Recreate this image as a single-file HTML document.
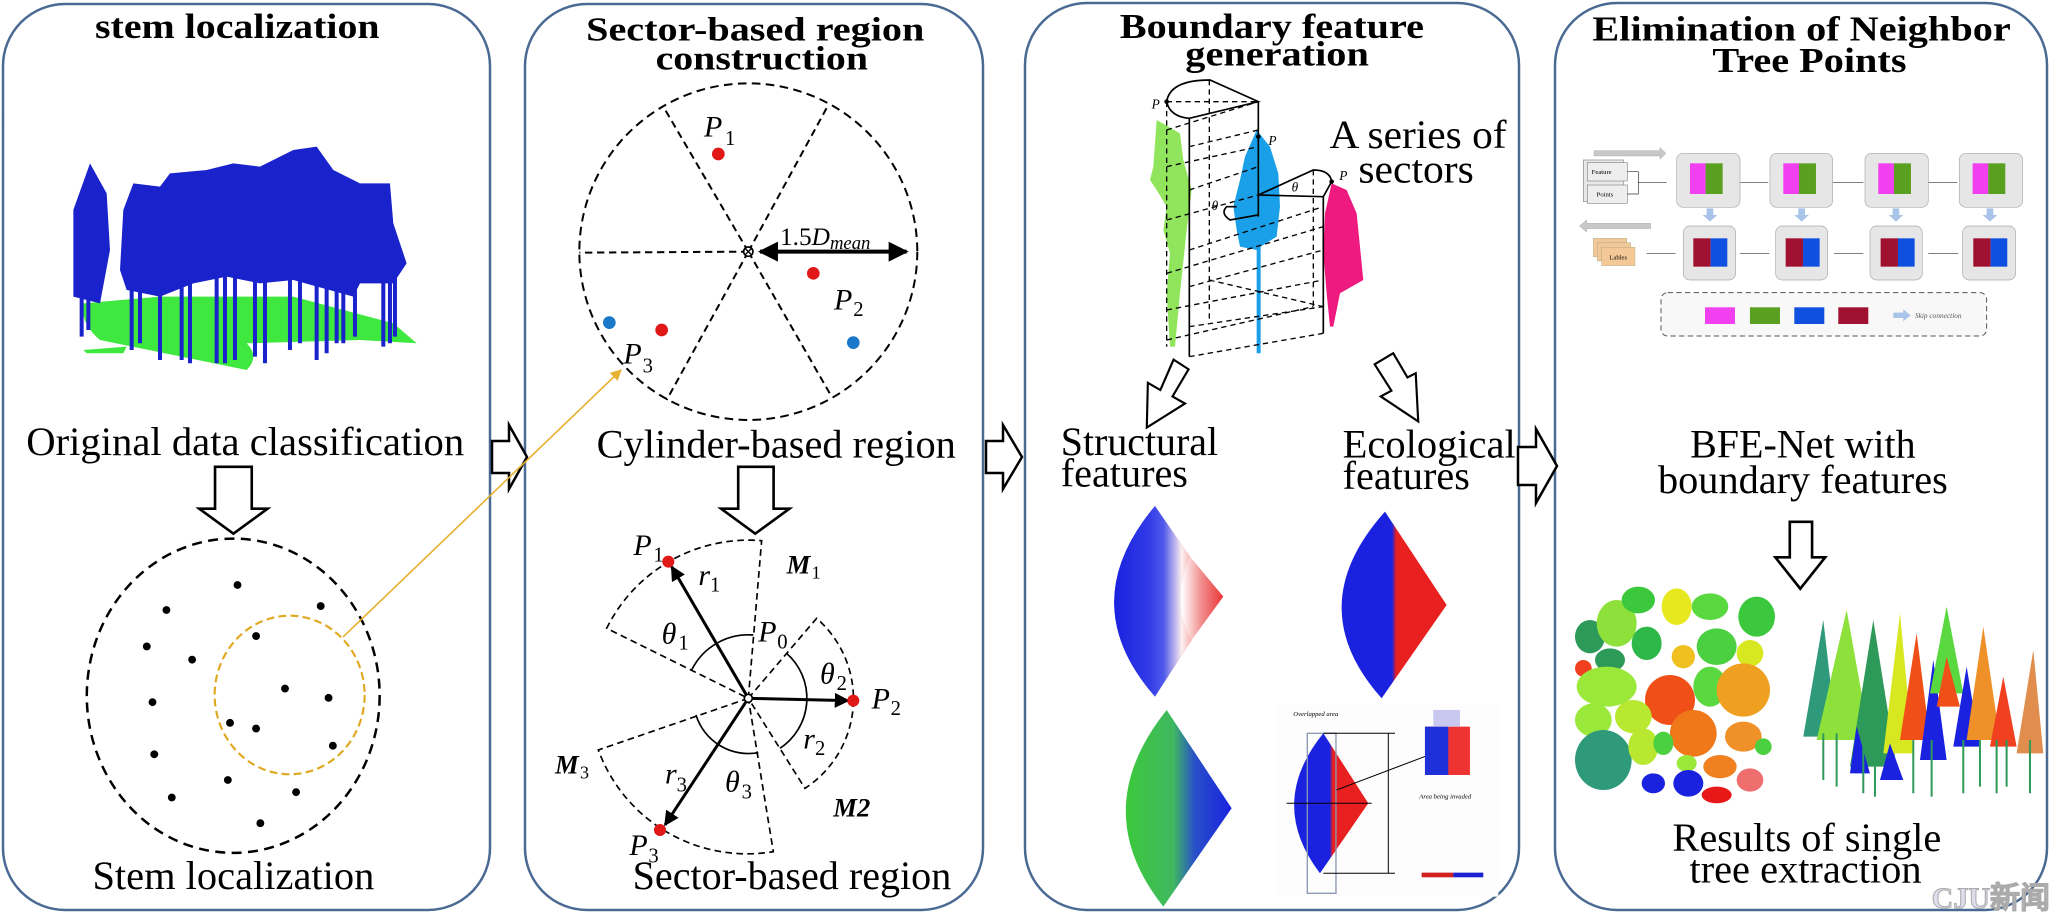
<!DOCTYPE html>
<html><head><meta charset="utf-8"><style>
html,body{margin:0;padding:0;background:#fff;}
svg{display:block;}
text{font-family:"Liberation Serif",serif;}
</style></head><body>
<svg width="2056" height="914" viewBox="0 0 2056 914" xmlns="http://www.w3.org/2000/svg">
<defs>
<linearGradient id="gBR" x1="0" x2="1" y1="0" y2="0">
<stop offset="0" stop-color="#1a22e0"/><stop offset="0.45" stop-color="#3a44e8"/><stop offset="0.62" stop-color="#ffffff"/><stop offset="0.8" stop-color="#f08080"/><stop offset="1" stop-color="#e82020"/></linearGradient>
<linearGradient id="gBR2" x1="0" x2="1"><stop offset="0" stop-color="#1a22e0"/><stop offset="0.48" stop-color="#1a22e0"/><stop offset="0.52" stop-color="#e82020"/><stop offset="1" stop-color="#e82020"/></linearGradient>
<linearGradient id="gGB" x1="0" x2="1"><stop offset="0" stop-color="#3cc83c"/><stop offset="0.45" stop-color="#40b860"/><stop offset="0.65" stop-color="#2850c8"/><stop offset="1" stop-color="#1a22e0"/></linearGradient>
<marker id="ah" viewBox="0 0 10 10" refX="9" refY="5" markerWidth="5" markerHeight="5" orient="auto"><path d="M0 0L10 5L0 10z" fill="#000"/></marker>
<marker id="ahs" viewBox="0 0 10 10" refX="1" refY="5" markerWidth="5" markerHeight="5" orient="auto"><path d="M10 0L0 5L10 10z" fill="#000"/></marker>
<marker id="aho" viewBox="0 0 10 10" refX="9" refY="5" markerWidth="7" markerHeight="7" orient="auto"><path d="M0 0L10 5L0 10z" fill="#e8b030"/></marker>
</defs>
<rect width="2056" height="914" fill="#fff"/>
<!-- panels -->
<g fill="none" stroke="#4a6a94" stroke-width="2.5">
<rect x="3" y="4" width="487" height="906" rx="62"/>
<rect x="525" y="4" width="458" height="906" rx="62"/>
<rect x="1025" y="3" width="494" height="907" rx="62"/>
<rect x="1555" y="3" width="492" height="907" rx="62"/>
</g>
<!-- right hollow arrows -->
<g fill="#fff" stroke="#000" stroke-width="2.5">
<path d="M492 441 H509 V425 L527 457 L509 489 V473 H492 Z"/>
<path d="M986 441 H1003 V425 L1022 457 L1003 489 V473 H986 Z"/>
<path d="M1518 447 H1536 V429 L1557 466 L1536 503 V485 H1518 Z"/>
</g>

<!-- ===== Panel 1 ===== -->
<g transform="scale(1.3112)">
<text x="181" y="29" font-size="27" font-weight="bold" text-anchor="middle" textLength="217" lengthAdjust="spacingAndGlyphs">stem localization</text>
<text x="187" y="347" font-size="31" text-anchor="middle" textLength="334" lengthAdjust="spacingAndGlyphs">Original data classification</text>
<text x="178" y="678" font-size="31" text-anchor="middle" textLength="215" lengthAdjust="spacingAndGlyphs">Stem localization</text>
<path d="M164 356 H192 V388 H204 L178 407 L152 388 H164 Z" fill="#fff" stroke="#000" stroke-width="2"/>
</g>
<!-- tree point cloud -->
<g transform="translate(60,110) scale(0.3333)">
<path d="M70 580 Q60 640 120 690 L560 780 Q600 740 560 700 L900 690 L1070 700 L1000 640 L700 560 L300 560 Z" fill="#3ee83e"/>
<path d="M70 720 L200 710 L190 730 L80 730 Z" fill="#3ee83e"/>
<path d="M40 560 L40 300 L90 160 L140 250 L150 420 L120 580 Z" fill="#1a22cc"/>
<path d="M180 480 L190 300 L220 220 L300 230 L330 190 L440 180 L520 160 L600 170 L700 120 L770 110 L820 180 L900 220 L990 220 L1000 340 L1040 460 L1000 520 L900 520 L880 560 L700 510 L600 520 L500 500 L400 520 L300 560 L200 540 Z" fill="#1a22cc"/>
<g stroke="#1a22cc" stroke-width="12">
<path d="M65 400V680M85 420V660M215 450V720M240 480V700M300 480V750M365 480V750M390 470V760M470 480V760M495 480V760M525 480V750M585 480V740M615 480V760M690 480V720M720 480V700M770 480V750M800 480V730M830 480V700M850 480V700M885 480V680M970 480V710M990 480V700M1005 480V680"/>
</g>
</g>
<!-- stem circle -->
<g transform="translate(60,520) scale(0.35714)">
<ellipse cx="485" cy="492" rx="410" ry="440" fill="none" stroke="#000" stroke-width="7" stroke-dasharray="28 18"/>
<ellipse cx="643" cy="490" rx="210" ry="222" fill="none" stroke="#e0a820" stroke-width="6" stroke-dasharray="22 12"/>
<g fill="#000">
<circle cx="497" cy="182" r="11"/><circle cx="298" cy="252" r="11"/><circle cx="730" cy="241" r="11"/><circle cx="243" cy="354" r="11"/><circle cx="549" cy="325" r="11"/><circle cx="370" cy="391" r="11"/><circle cx="630" cy="472" r="11"/><circle cx="752" cy="498" r="11"/><circle cx="259" cy="510" r="11"/><circle cx="476" cy="568" r="11"/><circle cx="549" cy="584" r="11"/><circle cx="764" cy="632" r="11"/><circle cx="264" cy="656" r="11"/><circle cx="470" cy="728" r="11"/><circle cx="661" cy="762" r="11"/><circle cx="313" cy="777" r="11"/><circle cx="561" cy="849" r="11"/>
</g>
</g>
<line x1="343" y1="637" x2="621" y2="370" stroke="#e8b030" stroke-width="1.6" marker-end="url(#aho)"/>

<!-- ===== Panel 2 ===== -->
<g transform="scale(1.3112)">
<text x="576" y="31" font-size="26" font-weight="bold" text-anchor="middle" textLength="258" lengthAdjust="spacingAndGlyphs">Sector-based region</text>
<text x="581" y="53" font-size="26" font-weight="bold" text-anchor="middle" textLength="162" lengthAdjust="spacingAndGlyphs">construction</text>
<text x="592" y="349" font-size="31" text-anchor="middle" textLength="274" lengthAdjust="spacingAndGlyphs">Cylinder-based region</text>
<text x="604" y="678" font-size="31" text-anchor="middle" textLength="243" lengthAdjust="spacingAndGlyphs">Sector-based region</text>
<path d="M563 356 H590 V388 H602 L576 407 L550 388 H563 Z" fill="#fff" stroke="#000" stroke-width="2"/>
</g>
<g transform="translate(560,80) scale(0.3333)">
<ellipse cx="565" cy="515" rx="507" ry="505" fill="none" stroke="#000" stroke-width="6" stroke-dasharray="26 16"/>
<g stroke="#000" stroke-width="6" stroke-dasharray="22 14">
<line x1="565" y1="515" x2="310" y2="80"/><line x1="565" y1="515" x2="805" y2="75"/><line x1="565" y1="515" x2="320" y2="960"/><line x1="565" y1="515" x2="815" y2="950"/><line x1="565" y1="515" x2="58" y2="518"/>
</g>
<line x1="600" y1="515" x2="1040" y2="515" stroke="#000" stroke-width="12" marker-end="url(#ah)" marker-start="url(#ahs)"/>
<circle cx="565" cy="515" r="14" fill="#fff" stroke="#000" stroke-width="5"/>
<path d="M556 506L574 524M574 506L556 524" stroke="#000" stroke-width="4"/>
<g fill="#e01818"><circle cx="475" cy="222" r="19"/><circle cx="760" cy="580" r="19"/><circle cx="305" cy="750" r="19"/></g>
<g fill="#1a78c8"><circle cx="148" cy="728" r="19"/><circle cx="880" cy="788" r="19"/></g>
<g font-size="90" font-style="italic" font-family="Liberation Serif,serif">
<text x="432" y="170">P</text><text x="495" y="195" font-style="normal" font-size="62">1</text>
<text x="822" y="688">P</text><text x="880" y="708" font-style="normal" font-size="62">2</text>
<text x="190" y="850">P</text><text x="248" y="878" font-style="normal" font-size="62">3</text>
<text x="660" y="495" font-style="normal" font-size="76">1.5<tspan font-style="italic">D</tspan><tspan font-size="56" font-style="italic" dy="12">mean</tspan></text>
</g>
</g>
<g transform="translate(540,510) scale(0.3333)">
<g fill="none" stroke="#000" stroke-width="5" stroke-dasharray="20 13">
<path d="M625 565 L665 92 A475 475 0 0 0 200 355 Z"/>
<path d="M625 565 L830 325 A320 320 0 0 1 795 835 Z"/>
<path d="M625 565 L175 720 A475 475 0 0 0 700 1025 Z"/>
</g>
<g fill="none" stroke="#000" stroke-width="5">
<path d="M455 480 A190 190 0 0 1 640 375"/>
<path d="M740 430 A180 180 0 0 1 720 715"/>
<path d="M468 615 A165 165 0 0 0 655 728"/>
</g>
<g stroke="#000" stroke-width="9">
<line x1="625" y1="565" x2="395" y2="170" marker-end="url(#ah)"/>
<line x1="625" y1="565" x2="925" y2="572" marker-end="url(#ah)"/>
<line x1="625" y1="565" x2="375" y2="945" marker-end="url(#ah)"/>
</g>
<circle cx="625" cy="565" r="12" fill="#fff" stroke="#000" stroke-width="5"/>
<g fill="#e01818"><circle cx="385" cy="155" r="18"/><circle cx="940" cy="572" r="18"/><circle cx="360" cy="960" r="18"/></g>
<g font-size="90" font-style="italic">
<text x="280" y="135">P</text><text x="340" y="155" font-size="62" font-style="normal">1</text>
<text x="475" y="225">r</text><text x="510" y="245" font-size="62" font-style="normal">1</text>
<text x="365" y="400">θ</text><text x="415" y="418" font-size="62" font-style="normal">1</text>
<text x="655" y="395">P</text><text x="712" y="415" font-size="62" font-style="normal">0</text>
<text x="840" y="520">θ</text><text x="890" y="540" font-size="62" font-style="normal">2</text>
<text x="995" y="595">P</text><text x="1052" y="615" font-size="62" font-style="normal">2</text>
<text x="790" y="715">r</text><text x="825" y="735" font-size="62" font-style="normal">2</text>
<text x="375" y="820">r</text><text x="410" y="845" font-size="62" font-style="normal">3</text>
<text x="555" y="845">θ</text><text x="605" y="865" font-size="62" font-style="normal">3</text>
<text x="268" y="1035">P</text><text x="325" y="1058" font-size="62" font-style="normal">3</text>
</g>
<g font-size="80" font-weight="bold" font-style="italic">
<text x="740" y="190">M</text><text x="815" y="205" font-size="54" font-weight="normal" font-style="normal">1</text>
<text x="45" y="790">M</text><text x="120" y="805" font-size="54" font-weight="normal" font-style="normal">3</text>
<text x="880" y="920">M2</text>
</g>
</g>

<!-- ===== Panel 3 ===== -->
<g transform="scale(1.3112)">
<text x="970" y="29" font-size="27" font-weight="bold" text-anchor="middle" textLength="232" lengthAdjust="spacingAndGlyphs">Boundary feature</text>
<text x="974" y="50" font-size="27" font-weight="bold" text-anchor="middle" textLength="140" lengthAdjust="spacingAndGlyphs">generation</text>
<text x="1014" y="113" font-size="31" textLength="135" lengthAdjust="spacingAndGlyphs">A series of</text>
<text x="1036" y="139" font-size="31" textLength="88" lengthAdjust="spacingAndGlyphs">sectors</text>
<text x="809" y="347" font-size="31" textLength="120" lengthAdjust="spacingAndGlyphs">Structural</text>
<text x="809" y="371" font-size="31" textLength="97" lengthAdjust="spacingAndGlyphs">features</text>
<text x="1024" y="349" font-size="31" textLength="132" lengthAdjust="spacingAndGlyphs">Ecological</text>
<text x="1024" y="373" font-size="31" textLength="97" lengthAdjust="spacingAndGlyphs">features</text>
</g>
<g transform="translate(1130,80) scale(0.3333)">
<path d="M80 120 L70 260 L60 300 L80 330 L110 380 L100 450 L120 520 L110 640 L120 800 L135 800 L150 640 L170 450 L185 330 L160 240 L150 160 Z" fill="#7ee040" opacity="0.85"/>
<path d="M380 150 L345 230 L330 300 L310 380 L320 450 L330 500 L380 510 L380 820 L392 820 L392 500 L440 470 L450 380 L445 280 L420 200 Z" fill="#1aa0e8"/>
<path d="M605 310 L585 400 L580 520 L590 640 L600 740 L610 740 L630 640 L700 600 L690 500 L680 400 L650 330 Z" fill="#ee1a80"/>
<g fill="none" stroke="#000" stroke-width="5">
<path d="M110 65 Q120 0 240 0 L385 65 L178 115 Q120 110 110 65"/>
<line x1="178" y1="115" x2="178" y2="830"/>
<line x1="385" y1="65" x2="385" y2="410"/>
<path d="M385 345 L550 270 Q600 270 605 305 L580 350 L385 345 M580 350 L580 760"/>
<path d="M385 405 L300 420 Q270 400 290 380 L320 380"/>
</g>
<g fill="none" stroke="#000" stroke-width="4" stroke-dasharray="16 12">
<line x1="238" y1="0" x2="238" y2="720"/><line x1="550" y1="270" x2="550" y2="680"/><line x1="110" y1="65" x2="110" y2="800"/>
<path d="M110 65 L385 65 M110 150 L385 65 M178 200 L385 150 M110 260 L385 200 M178 330 L385 260 M110 420 L385 345 M178 510 L580 380 M110 580 L580 440 M178 620 L580 510 M110 690 L580 600 M178 740 L580 680 M110 780 L550 680 M178 830 L580 760 M238 600 L580 680"/>
</g>
<circle cx="110" cy="65" r="7" fill="#000"/><circle cx="385" cy="170" r="7" fill="#000"/><circle cx="605" cy="305" r="7" fill="#000"/>
<g font-style="italic" font-size="40"><text x="65" y="85">P</text><text x="415" y="195">P</text><text x="628" y="300">P</text><text x="485" y="335">θ</text><text x="245" y="390">θ</text></g>
</g>
<g transform="translate(1020,340) scale(0.35714)" fill="#fff" stroke="#000" stroke-width="6">
<path d="M430 55 L472 82 L427 158 L462 178 L355 245 L358 120 L393 140 Z"/>
<path d="M993 68 L1045 37 L1085 105 L1108 93 L1115 228 L1010 158 L1040 142 Z"/>
</g>
<g transform="translate(1060,480) scale(0.3333)">
<path d="M285 78 Q40 370 285 650 L395 480 Q330 370 390 230 Z" fill="url(#gBR)"/>
<path d="M285 78 L390 230 L490 350 L395 480 L285 650 Q40 370 285 78 Z" fill="url(#gBR)" opacity="0.9"/>
<path d="M975 95 Q720 380 965 655 L1160 375 Z" fill="url(#gBR2)"/>
<path d="M320 690 Q80 990 310 1280 L515 985 Z" fill="url(#gGB)"/>
<rect x="650" y="670" width="665" height="580" fill="#fdfdfd"/>
<path d="M790 760 Q620 970 780 1180 L925 970 Z" fill="url(#gBR2)"/>
<rect x="742" y="760" width="86" height="480" fill="none" stroke="#8898b0" stroke-width="4"/>
<path d="M790 760 H1005 M790 1180 H1005 M985 760 V1180 M680 970 H935 M830 930 L1120 820" stroke="#000" stroke-width="3" fill="none"/>
<rect x="1095" y="740" width="135" height="145" fill="#e33"/><rect x="1095" y="740" width="70" height="145" fill="#2030d8"/>
<rect x="1120" y="690" width="80" height="50" fill="#c8c8f0"/>
<rect x="1085" y="1178" width="95" height="14" fill="#d02020"/><rect x="1180" y="1178" width="90" height="14" fill="#1a22d0"/>
<text x="700" y="708" font-size="20" font-style="italic">Overlapped area</text>
<text x="1078" y="955" font-size="20" font-style="italic">Area being invaded</text>
</g>

<!-- ===== Panel 4 ===== -->
<g transform="scale(1.3112)">
<text x="1374" y="31" font-size="27" font-weight="bold" text-anchor="middle" textLength="319" lengthAdjust="spacingAndGlyphs">Elimination of Neighbor</text>
<text x="1380" y="55" font-size="27" font-weight="bold" text-anchor="middle" textLength="148" lengthAdjust="spacingAndGlyphs">Tree Points</text>
<text x="1375" y="349" font-size="31" text-anchor="middle" textLength="172" lengthAdjust="spacingAndGlyphs">BFE-Net with</text>
<text x="1375" y="376" font-size="31" text-anchor="middle" textLength="221" lengthAdjust="spacingAndGlyphs">boundary features</text>
<text x="1378" y="649" font-size="31" text-anchor="middle" textLength="205" lengthAdjust="spacingAndGlyphs">Results of single</text>
<text x="1377" y="673" font-size="31" text-anchor="middle" textLength="177" lengthAdjust="spacingAndGlyphs">tree extraction</text>
<path d="M1365 398 H1382 V425 H1392 L1373 449 L1354 425 H1365 Z" fill="#fff" stroke="#000" stroke-width="2"/>
</g>
<g transform="translate(1560,140) scale(0.3333)" font-family="Liberation Serif,serif">
<path d="M102 32 H300 V22 L318 40 L300 58 V48 H102 Z" fill="#c8c8c8" stroke="#999"/>
<path d="M272 250 H80 V240 L58 258 L80 276 V266 H272 Z" fill="#c8c8c8" stroke="#999"/>
<rect x="70" y="60" width="120" height="125" fill="#e8e8e8" stroke="#888" stroke-width="2"/>
<rect x="82" y="68" width="120" height="55" fill="#eee" stroke="#888" stroke-width="2"/><text x="95" y="102" font-size="20">Feature</text>
<rect x="82" y="135" width="120" height="55" fill="#eee" stroke="#888" stroke-width="2"/><text x="110" y="170" font-size="20">Points</text>
<path d="M202 95 H235 V162 H202 M235 128 H320" fill="none" stroke="#333" stroke-width="2"/>
<g stroke="#333" stroke-width="2"><line x1="540" y1="128" x2="625" y2="128"/><line x1="818" y1="128" x2="910" y2="128"/><line x1="1105" y1="128" x2="1192" y2="128"/>
<line x1="347" y1="340" x2="260" y2="340"/><line x1="628" y1="340" x2="540" y2="340"/><line x1="910" y1="340" x2="822" y2="340"/><line x1="1195" y1="340" x2="1105" y2="340"/></g>
<g fill="#e6e6e6" stroke="#aaa" stroke-width="2">
<rect x="350" y="40" width="190" height="162" rx="20"/><rect x="630" y="40" width="188" height="162" rx="20"/><rect x="915" y="40" width="190" height="162" rx="20"/><rect x="1198" y="40" width="190" height="162" rx="20"/>
<rect x="370" y="258" width="157" height="162" rx="20"/><rect x="647" y="258" width="156" height="162" rx="20"/><rect x="930" y="258" width="157" height="162" rx="20"/><rect x="1208" y="258" width="159" height="162" rx="20"/>
</g>
<g>
<rect x="390" y="70" width="47" height="92" fill="#f040f0"/><rect x="437" y="70" width="51" height="92" fill="#5aa020"/>
<rect x="670" y="70" width="47" height="92" fill="#f040f0"/><rect x="717" y="70" width="51" height="92" fill="#5aa020"/>
<rect x="955" y="70" width="47" height="92" fill="#f040f0"/><rect x="1002" y="70" width="51" height="92" fill="#5aa020"/>
<rect x="1238" y="70" width="47" height="92" fill="#f040f0"/><rect x="1285" y="70" width="51" height="92" fill="#5aa020"/>
<rect x="400" y="295" width="52" height="85" fill="#a01030"/><rect x="452" y="295" width="50" height="85" fill="#1050e0"/>
<rect x="677" y="295" width="52" height="85" fill="#a01030"/><rect x="729" y="295" width="50" height="85" fill="#1050e0"/>
<rect x="962" y="295" width="52" height="85" fill="#a01030"/><rect x="1014" y="295" width="50" height="85" fill="#1050e0"/>
<rect x="1240" y="295" width="52" height="85" fill="#a01030"/><rect x="1292" y="295" width="50" height="85" fill="#1050e0"/>
</g>
<g fill="#a8c4e8"><path d="M440 205h20v20h12l-22 20l-22-20h12z"/><path d="M715 205h20v20h12l-22 20l-22-20h12z"/><path d="M998 205h20v20h12l-22 20l-22-20h12z"/><path d="M1280 205h20v20h12l-22 20l-22-20h12z"/></g>
<rect x="100" y="295" width="100" height="55" fill="#f0c89a" stroke="#996"/><rect x="112" y="308" width="100" height="55" fill="#f0c89a" stroke="#996"/><rect x="125" y="322" width="100" height="55" fill="#f5c898" stroke="#996"/><text x="148" y="358" font-size="20">Lables</text>
<rect x="303" y="458" width="977" height="130" rx="20" fill="#f8f8f8" stroke="#555" stroke-width="3" stroke-dasharray="16 10"/>
<rect x="435" y="502" width="90" height="50" fill="#f040f0"/><rect x="570" y="502" width="90" height="50" fill="#5aa020"/><rect x="703" y="502" width="90" height="50" fill="#1050e0"/><rect x="835" y="502" width="90" height="50" fill="#a01030"/>
<path d="M1000 518h30v-10l22 18l-22 18v-10h-30z" fill="#a8c4e8"/><text x="1065" y="534" font-size="22" font-style="italic" fill="#555">Skip connection</text>
</g>
<!-- results -->
<g transform="translate(1570,580) scale(0.3333)">
<ellipse cx="60" cy="170" rx="45" ry="50" fill="#2e9a5a"/>
<ellipse cx="140" cy="130" rx="60" ry="70" fill="#8ee03a"/>
<ellipse cx="205" cy="60" rx="50" ry="40" fill="#3cc83c"/>
<ellipse cx="320" cy="80" rx="45" ry="55" fill="#e8e820"/>
<ellipse cx="420" cy="80" rx="55" ry="40" fill="#5ad840"/>
<ellipse cx="560" cy="110" rx="55" ry="60" fill="#3cc83c"/>
<ellipse cx="230" cy="190" rx="45" ry="50" fill="#2eb84a"/>
<ellipse cx="340" cy="230" rx="35" ry="35" fill="#f0c020"/>
<ellipse cx="440" cy="200" rx="60" ry="55" fill="#4ad040"/>
<ellipse cx="540" cy="220" rx="40" ry="40" fill="#d8e820"/>
<ellipse cx="40" cy="265" rx="25" ry="25" fill="#f04020"/>
<ellipse cx="120" cy="240" rx="45" ry="35" fill="#2e9a5a"/>
<ellipse cx="110" cy="320" rx="90" ry="60" fill="#9ae83a"/>
<ellipse cx="420" cy="320" rx="50" ry="60" fill="#5ad840"/>
<ellipse cx="520" cy="330" rx="80" ry="80" fill="#f0a020"/>
<ellipse cx="300" cy="360" rx="75" ry="75" fill="#f05018"/>
<ellipse cx="370" cy="460" rx="70" ry="70" fill="#f07818"/>
<ellipse cx="190" cy="410" rx="55" ry="50" fill="#b8e830"/>
<ellipse cx="70" cy="420" rx="55" ry="50" fill="#9ae83a"/>
<ellipse cx="100" cy="540" rx="85" ry="90" fill="#2e9a7a"/>
<ellipse cx="220" cy="500" rx="45" ry="55" fill="#b8e830"/>
<ellipse cx="280" cy="490" rx="30" ry="35" fill="#4ad040"/>
<ellipse cx="520" cy="470" rx="55" ry="45" fill="#f09028"/>
<ellipse cx="580" cy="500" rx="25" ry="25" fill="#4ad040"/>
<ellipse cx="350" cy="550" rx="30" ry="25" fill="#9ae83a"/>
<ellipse cx="450" cy="560" rx="50" ry="35" fill="#f08020"/>
<ellipse cx="250" cy="610" rx="35" ry="30" fill="#1a22e0"/>
<ellipse cx="355" cy="610" rx="45" ry="40" fill="#1a22e0"/>
<ellipse cx="440" cy="645" rx="45" ry="25" fill="#e81818"/>
<ellipse cx="540" cy="600" rx="40" ry="35" fill="#e83030" opacity="0.7"/>
<g>
<path d="M700 470 L760 120 L800 470 Z" fill="#2e9a7a"/>
<path d="M740 480 L830 90 L900 480 Z" fill="#8ee03a"/>
<path d="M840 560 L910 120 L980 560 Z" fill="#2e9a5a"/>
<path d="M940 520 L990 100 L1030 520 Z" fill="#d8e820"/>
<path d="M990 480 L1040 160 L1080 480 Z" fill="#f05018"/>
<path d="M1050 540 L1090 240 L1130 540 Z" fill="#1a22e0"/>
<path d="M1080 340 L1130 80 L1180 340 Z" fill="#5ad840"/>
<path d="M1100 380 L1130 230 L1170 380 Z" fill="#f05018"/>
<path d="M1150 500 L1190 260 L1230 500 Z" fill="#1a22e0"/>
<path d="M1190 480 L1240 140 L1290 480 Z" fill="#f09028"/>
<path d="M1260 500 L1300 290 L1340 500 Z" fill="#f04020"/>
<path d="M1340 520 L1390 210 L1420 520 Z" fill="#d87020" opacity="0.8"/>
<path d="M840 580 L860 440 L900 580 Z" fill="#1a22e0"/>
<path d="M930 600 L960 490 L1000 600 Z" fill="#1a22e0"/>
</g>
<g stroke-width="6"><path d="M760 460V600M800 460V620M880 500V640M915 480V650M1030 480V640M1085 480V650M1180 480V640M1230 480V620M1280 480V640M1310 480V620M1380 480V640" stroke="#2e9a5a"/></g>
</g>
<text x="2050" y="908" font-family="Liberation Sans,'Noto Sans CJK SC',sans-serif" font-size="30" font-weight="bold" fill="#dde" stroke="#aaa" stroke-width="1" text-anchor="end">CJU新闻</text>
</svg>
</body></html>
